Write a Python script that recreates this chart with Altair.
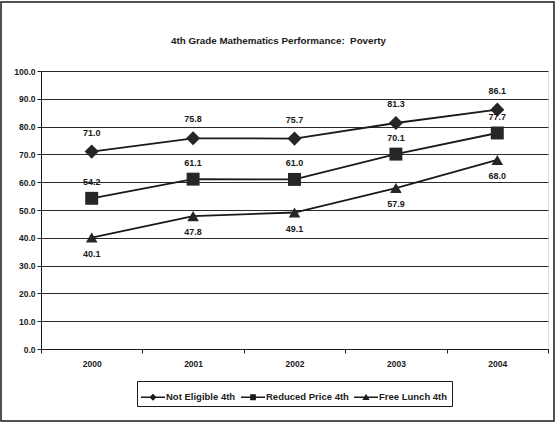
import altair as alt
import pandas as pd

# Grade 4 mathematics proficiency by poverty status
years = ["2000", "2001", "2002", "2003", "2004"]
series_names = ["Not Eligible 4th", "Reduced Price 4th", "Free Lunch 4th"]
not_eligible = [71.0, 75.8, 75.7, 81.3, 86.1]
reduced_price = [54.2, 61.1, 61.0, 70.1, 77.7]
free_lunch = [40.1, 47.8, 49.1, 57.9, 68.0]

rows = []
for name, vals in zip(series_names, [not_eligible, reduced_price, free_lunch]):
    for yr, v in zip(years, vals):
        rows.append({"year": yr, "series": name, "value": v})
df = pd.DataFrame(rows)

FONT = "Liberation Sans"
INK = "#1a1a1a"

x_enc = alt.X(
    "year:N",
    sort=years,
    scale=alt.Scale(paddingInner=0, paddingOuter=0),
    axis=alt.Axis(
        title=None, labelAngle=0, tickBand="extent", grid=False,
        domainColor=INK, tickColor=INK, tickSize=4, labelPadding=6,
        labelFont=FONT, labelFontSize=8.5, labelFontWeight="bold", labelColor=INK,
    ),
)
y_enc = alt.Y(
    "value:Q",
    scale=alt.Scale(domain=[0, 100], nice=False),
    axis=alt.Axis(
        title=None, values=list(range(0, 101, 10)), format=".1f",
        grid=True, gridColor="#2a2a2a", gridWidth=1,
        domainColor=INK, tickColor=INK, tickSize=4, labelPadding=2,
        labelFont=FONT, labelFontSize=8.5, labelFontWeight="bold", labelColor=INK,
    ),
)

base = alt.Chart(df).encode(x=x_enc, y=y_enc)

lines = base.mark_line(color=INK, strokeWidth=1.8).encode(detail="series:N")

points = base.mark_point(filled=True, opacity=1, color="#262626").encode(
    shape=alt.Shape(
        "series:N",
        scale=alt.Scale(domain=series_names, range=["diamond", "square", "triangle-up"]),
        legend=None,
    ),
    size=alt.Size(
        "series:N",
        scale=alt.Scale(domain=series_names, range=[200, 135, 240]),
        legend=None,
    ),
)

# Legend glyphs: a short line with the series marker on it
legend_paths = [
    "M-1,-0.055H1V0.055H-1Z M0,-0.3L0.3,0L0,0.3L-0.3,0Z",
    "M-1,-0.055H1V0.055H-1Z M-0.24,-0.24H0.24V0.24H-0.24Z",
    "M-1,-0.055H1V0.055H-1Z M0,-0.3L0.3,0.22L-0.3,0.22Z",
]
legend_layer = base.mark_point(filled=True, opacity=1, color=INK).encode(
    shape=alt.Shape(
        "series:N",
        scale=alt.Scale(domain=series_names, range=legend_paths),
        legend=alt.Legend(
            title=None, orient="none", legendX=96, legendY=310,
            direction="horizontal", strokeColor=INK, fillColor="white",
            padding=4, symbolSize=576, symbolStrokeWidth=0,
            labelFont=FONT, labelFontSize=9.5, labelFontWeight="bold", labelColor=INK,
            labelOffset=1, columnPadding=5, symbolFillColor=INK,
        ),
    )
).transform_filter("datum.value < 0")

def value_labels(name, dy):
    return base.transform_filter(alt.datum.series == name).mark_text(
        dy=dy, font=FONT, fontSize=9, fontWeight="bold", color=INK
    ).encode(text=alt.Text("value:Q", format=".1f"))

labels = [
    value_labels(series_names[0], -19),
    value_labels(series_names[1], -16),
    value_labels(series_names[2], 16),
]

frame = alt.Chart(pd.DataFrame({"k": [0]})).mark_rect(
    fill="transparent", stroke=INK, strokeWidth=1.5
).encode(
    x=alt.value(-40), x2=alt.value(513), y=alt.value(-69), y2=alt.value(350)
)

chart = alt.layer(frame, lines, points, legend_layer, *labels).resolve_scale(
    shape="independent"
).properties(
    width=507,
    height=278,
    padding={"left": 41, "top": 71, "right": 7, "bottom": 75},
    autosize=alt.AutoSizeParams(type="none"),
    title=alt.Title(
        "4th Grade Mathematics Performance:\u00a0 Poverty",
        font=FONT, fontSize=9.8, fontWeight="bold", color=INK,
        anchor="middle", offset=0, dy=45, dx=-16,
    ),
).configure_view(stroke="transparent").configure(background="white")

chart.save("out.html", embed_options={"renderer": "svg", "actions": False})
